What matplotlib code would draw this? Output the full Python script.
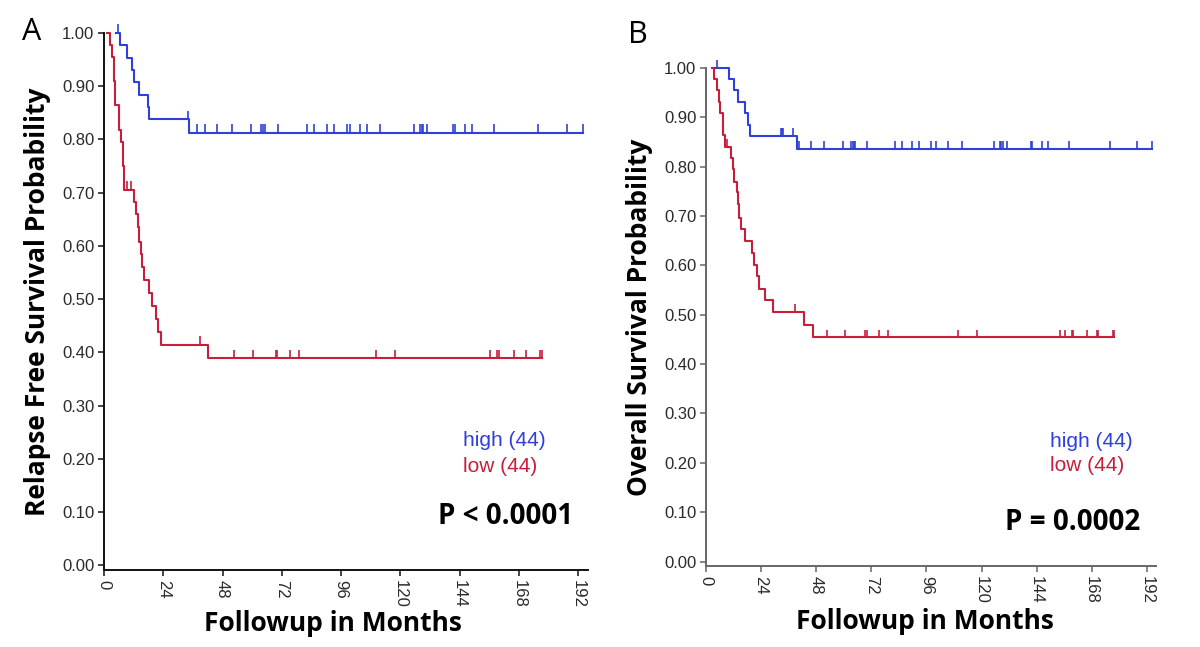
import numpy as np
import matplotlib
matplotlib.use("Agg")
import matplotlib.pyplot as plt

plt.rcParams["font.family"] = ["Liberation Sans", "DejaVu Sans"]
plt.rcParams["axes.unicode_minus"] = False

# ------------------------------------------------------------
# Kaplan-Meier step values
# (time in months, survival probability after each step)
# ------------------------------------------------------------

# Panel A: relapse free survival
a_high_time = [4.7, 6.5, 9.2, 11.2, 12.3, 14.3, 18.0, 18.2, 34.5]
a_high_surv = [1.0, 0.977, 0.953, 0.930, 0.907, 0.884, 0.861, 0.838, 0.813]
a_high_cens = [5.8, 33.9, 37.8, 40.9, 45.7, 51.7, 59.6, 63.6, 64.3, 65.1, 70.4,
               82.3, 85.1, 90.2, 93.1, 98.3, 99.6, 103.6, 106.4, 111.7, 125.5,
               127.9, 128.6, 129.3, 130.9, 141.4, 142.1, 146.2, 148.9, 158.0,
               175.8, 187.6, 194.1]

a_low_time = [1.3, 2.4, 3.4, 4.0, 4.2, 4.3, 4.5, 6.0, 6.2, 6.8, 7.6, 7.8, 8.0,
              8.2, 12.3, 13.0, 13.6, 14.3, 15.0, 15.3, 16.2, 18.3, 19.3, 21.1,
              21.9, 23.0, 42.0]
a_low_surv = [1.0, 0.977, 0.955, 0.932, 0.909, 0.886, 0.864, 0.841, 0.818,
              0.795, 0.773, 0.750, 0.727, 0.705, 0.682, 0.659, 0.636, 0.608,
              0.585, 0.560, 0.536, 0.512, 0.487, 0.463, 0.439, 0.414, 0.389]
a_low_cens = [9.2, 10.9, 38.9, 52.8, 60.4, 69.5, 70.2, 75.3, 79.1, 110.0,
              117.7, 156.3, 159.0, 159.9, 166.0, 170.9, 176.5, 177.5]

# Panel B: overall survival
b_high_time = [3.3, 10.2, 12.0, 13.9, 17.1, 18.1, 19.2, 39.6]
b_high_surv = [1.0, 0.978, 0.955, 0.931, 0.909, 0.885, 0.862, 0.836]
b_high_cens = [4.9, 32.6, 33.2, 33.7, 37.8, 40.3, 45.6, 51.6, 59.6, 63.3,
               63.9, 64.5, 65.0, 70.3, 82.2, 85.4, 89.7, 92.9, 97.9, 100.0,
               105.5, 111.7, 125.5, 127.9, 128.6, 129.3, 130.9, 141.4, 142.1,
               146.2, 148.9, 158.0, 175.8, 187.6, 194.1]

b_low_time = [2.6, 3.6, 4.7, 5.7, 6.2, 7.2, 7.6, 8.4, 11.0, 11.7, 12.0, 13.6,
              13.9, 14.2, 15.2, 16.8, 20.2, 21.1, 22.1, 22.9, 25.8, 29.1,
              42.7, 46.5]
b_low_surv = [1.0, 0.978, 0.955, 0.932, 0.909, 0.885, 0.864, 0.840, 0.818,
              0.795, 0.770, 0.748, 0.725, 0.697, 0.674, 0.650, 0.625, 0.601,
              0.578, 0.553, 0.530, 0.505, 0.480, 0.454]
b_low_cens = [9.1, 38.8, 52.6, 60.6, 69.3, 70.0, 75.4, 79.4, 109.9, 117.9,
              154.1, 156.3, 159.2, 159.9, 166.0, 170.1, 170.8, 177.1, 177.6]

group_labels = ["high (44)", "low (44)"]
x_ticks = [0, 24, 48, 72, 96, 120, 144, 168, 192]
y_ticks = [0.0, 0.1, 0.2, 0.3, 0.4, 0.5, 0.6, 0.7, 0.8, 0.9, 1.0]

BLUE = "#2f3fdc"
RED = "#c81e3c"


def draw_km(ax, times, surv, cens, color):
    times = np.asarray(times, dtype=float)
    surv = np.asarray(surv, dtype=float)
    cens = np.asarray(cens, dtype=float)
    t_end = max(times[-1], cens.max())
    xs = np.append(times, t_end)
    ys = np.append(surv, surv[-1])
    ax.step(xs, ys, where="post", color=color, lw=1.5, clip_on=False, zorder=3)
    # survival level at each censoring time
    idx = np.searchsorted(times, cens, side="right") - 1
    idx = np.clip(idx, 0, len(surv) - 1)
    lev = surv[idx]
    ax.vlines(cens, lev - 0.002, lev + 0.016, color=color, lw=1.2,
              clip_on=False, zorder=3)


def style_axes(ax, spine_color):
    ax.set_xlim(0, 196)
    ax.set_ylim(-0.009, 1.0)
    ax.spines["top"].set_visible(False)
    ax.spines["right"].set_visible(False)
    for s in ["left", "bottom"]:
        ax.spines[s].set_color(spine_color)
        ax.spines[s].set_linewidth(1.4)
    ax.set_xticks(x_ticks)
    ax.set_xticklabels([str(t) for t in x_ticks], rotation=-90)
    ax.set_yticks(y_ticks)
    ax.set_yticklabels([f"{v:.2f}" for v in y_ticks])
    ax.tick_params(axis="both", direction="out", length=4.5, width=1.1,
                   color=spine_color, labelsize=12, labelcolor="#2a2a2a",
                   pad=2.5)


def main():
    fig = plt.figure(figsize=(12, 6.47), dpi=100)

    ax_a = fig.add_axes([104 / 1200, 77 / 647, 484 / 1200, 537 / 647])
    ax_b = fig.add_axes([706 / 1200, 81 / 647, 450 / 1200, 498 / 647])

    draw_km(ax_a, a_high_time, a_high_surv, a_high_cens, BLUE)
    draw_km(ax_a, a_low_time, a_low_surv, a_low_cens, RED)
    draw_km(ax_b, b_high_time, b_high_surv, b_high_cens, BLUE)
    draw_km(ax_b, b_low_time, b_low_surv, b_low_cens, RED)

    style_axes(ax_a, "#111111")
    style_axes(ax_b, "#666666")

    bold = dict(family=["Open Sans", "DejaVu Sans"], fontweight="bold")

    ax_a.set_ylabel("Relapse Free Survival Probability", fontsize=19,
                    labelpad=8, **bold)
    ax_b.set_ylabel("Overall Survival Probability", fontsize=19,
                    labelpad=8, **bold)
    ax_a.set_xlabel("Followup in Months", fontsize=19, va="center", **bold)
    ax_b.set_xlabel("Followup in Months", fontsize=19, va="center", **bold)
    ax_a.xaxis.set_label_coords(0.473, -0.099)
    ax_b.xaxis.set_label_coords(0.487, -0.112)

    # legends as coloured text
    for ax, x0, y0 in [(ax_a, 0.742, 0.242), (ax_b, 0.764, 0.251)]:
        ax.text(x0, y0, group_labels[0], color=BLUE, fontsize=15,
                transform=ax.transAxes, va="center", ha="left")
        ax.text(x0, y0 - 0.05, group_labels[1], color=RED, fontsize=15,
                transform=ax.transAxes, va="center", ha="left")

    ax_a.text(0.969, 0.099, "P < 0.0001", fontsize=20, ha="right",
              va="center", transform=ax_a.transAxes, **bold)
    ax_b.text(0.964, 0.088, "P = 0.0002", fontsize=20, ha="right",
              va="center", transform=ax_b.transAxes, **bold)

    fig.text(32 / 1200, 1 - 32 / 647, "A", fontsize=22, ha="center",
             va="center", family=["Open Sans", "DejaVu Sans"])
    fig.text(638 / 1200, 1 - 35 / 647, "B", fontsize=22, ha="center",
             va="center", family=["Open Sans", "DejaVu Sans"])

    fig.savefig("out.png", dpi=100)
    plt.close(fig)


if __name__ == "__main__":
    main()
